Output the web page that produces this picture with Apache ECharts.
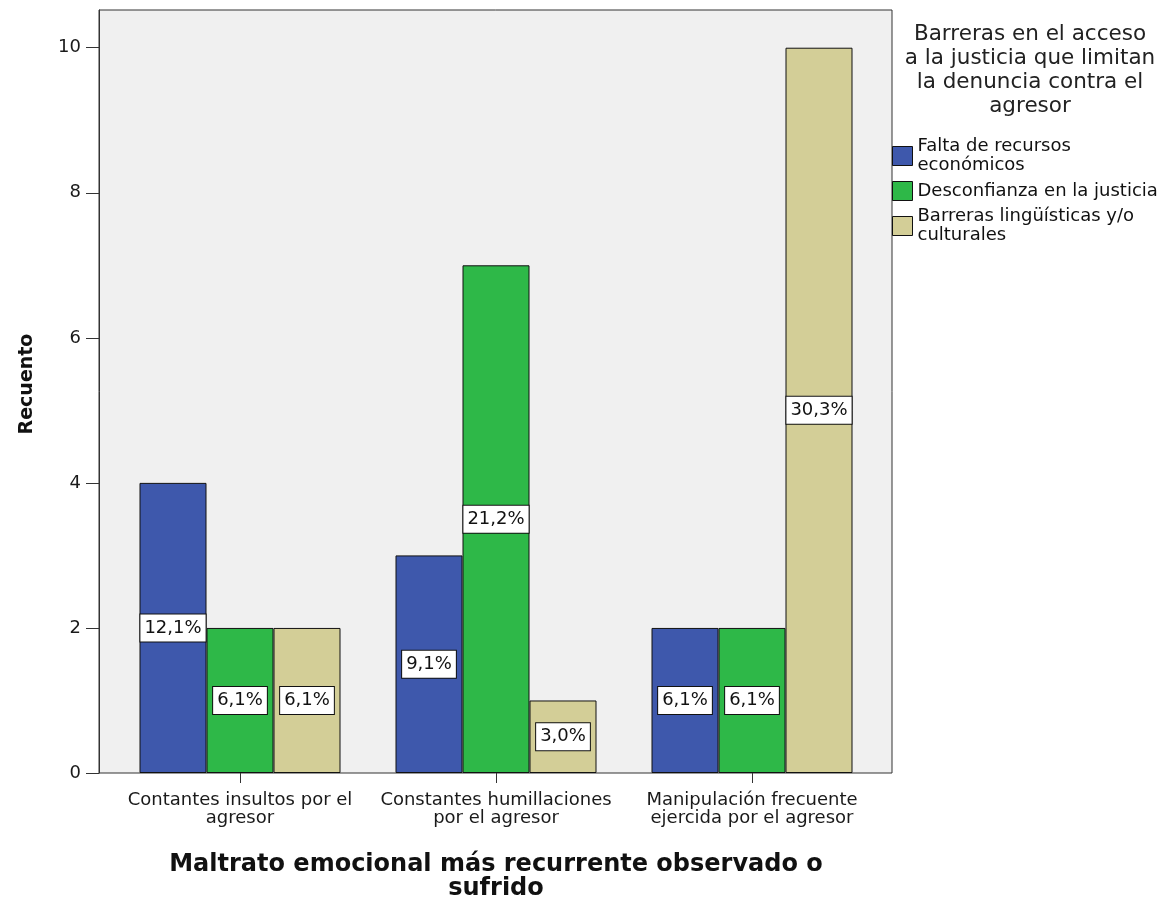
<!DOCTYPE html>
<html>
<head>
<meta charset="utf-8">
<script src="https://cdn.jsdelivr.net/npm/echarts@6/dist/echarts.min.js"></script>
<style>
html,body{margin:0;padding:0;background:#fff;}
#c{width:1172px;height:903px;}
</style>
</head>
<body>
<div id="c"></div>
<script>
// ---- data ----
const categories = ['Contantes insultos por el\nagresor', 'Constantes humillaciones\npor el agresor', 'Manipulación frecuente\nejercida por el agresor'];
const seriesNames = ['Falta de recursos económicos', 'Desconfianza en la justicia', 'Barreras lingüísticas y/o culturales'];
const legendLabels = ['Falta de recursos\neconómicos', 'Desconfianza en la justicia', 'Barreras lingüísticas y/o\nculturales'];
const faltaRecursos = [4, 3, 2];
const desconfianza = [2, 7, 2];
const barrerasLing = [2, 1, 10];
const pctFalta = ['12,1%', '9,1%', '6,1%'];
const pctDesconfianza = ['6,1%', '21,2%', '6,1%'];
const pctBarreras = ['6,1%', '3,0%', '30,3%'];
const yTicks = [0, 2, 4, 6, 8, 10];
const legendTitle = 'Barreras en el acceso\na la justicia que limitan\nla denuncia contra el\nagresor';
const xTitle = 'Maltrato emocional más recurrente observado o\nsufrido';
const yTitle = 'Recuento';

const colors = ['#3E58AC', '#2EB848', '#D3CE97'];
const FONT = '"DejaVu Sans", sans-serif';
const YMAX = 10.52;

function mkSeries(i, values, pcts) {
  return {
    name: seriesNames[i],
    type: 'bar',
    xAxisIndex: 1,
    yAxisIndex: 1,
    barWidth: 67,
    barGap: '0%',
    data: values,
    itemStyle: { color: colors[i], borderColor: '#111', borderWidth: 1 },
    label: {
      show: true,
      position: 'inside',
      formatter: p => pcts[p.dataIndex],
      fontFamily: FONT,
      fontSize: 18,
      color: '#111',
      backgroundColor: '#fff',
      borderColor: '#111',
      borderWidth: 1,
      padding: [4, 4, 3, 4],
      lineHeight: 20
    },
    emphasis: { disabled: true }
  };
}

const chart = echarts.init(document.getElementById('c'), null, { renderer: 'canvas' });
const legendMap = {};
seriesNames.forEach((n, i) => legendMap[n] = legendLabels[i]);

chart.setOption({
  animation: false,
  backgroundColor: '#fff',
  grid: [
    { left: 99, top: 10, width: 793, height: 763, outerBoundsMode: 'none', containLabel: false, show: true, backgroundColor: '#F0F0F0', borderColor: '#333', borderWidth: 1 },
    { left: 112, top: 10, width: 768, height: 763, outerBoundsMode: 'none', containLabel: false }
  ],
  xAxis: [
    { gridIndex: 0, type: 'value', min: 0, max: 1, show: false },
    {
      gridIndex: 1, type: 'category', data: categories,
      axisLine: { show: false },
      axisTick: { show: true, alignWithLabel: true, length: 10, lineStyle: { color: '#333', width: 1 } },
      axisLabel: { interval: 0, margin: 18, fontFamily: FONT, fontSize: 18, lineHeight: 18, color: '#1a1a1a' },
      name: xTitle,
      nameLocation: 'middle',
      nameGap: 80,
      nameTextStyle: { fontFamily: FONT, fontWeight: 'bold', fontSize: 24, lineHeight: 24, color: '#111' }
    }
  ],
  yAxis: [
    {
      gridIndex: 0, type: 'value', min: 0, max: YMAX,
      splitLine: { show: false },
      axisLine: { show: true, lineStyle: { color: '#333', width: 1 } },
      axisTick: { show: true, length: 13, customValues: yTicks, lineStyle: { color: '#333', width: 1 } },
      axisLabel: { margin: 18, customValues: yTicks, fontFamily: FONT, fontSize: 18, color: '#1a1a1a' },
      name: yTitle,
      nameLocation: 'middle',
      nameGap: 62,
      nameTextStyle: { fontFamily: FONT, fontWeight: 'bold', fontSize: 19, color: '#111', padding: [0, 0, 0, 15] }
    },
    { gridIndex: 1, type: 'value', min: 0, max: YMAX, show: false, splitLine: { show: false } }
  ],
  legend: {
    orient: 'vertical',
    left: 892,
    top: 137,
    padding: 0,
    itemWidth: 20,
    itemHeight: 19,
    itemGap: 6,
    icon: 'rect',
    selectedMode: false,
    data: seriesNames,
    formatter: n => legendMap[n],
    itemStyle: { borderColor: '#111', borderWidth: 1 },
    textStyle: { fontFamily: FONT, fontSize: 18, lineHeight: 19, color: '#111' }
  },
  graphic: [
    {
      type: 'text',
      x: 1030, y: 22,
      style: {
        text: legendTitle,
        fontFamily: FONT,
        fontSize: 21.5,
        lineHeight: 24,
        fill: '#222',
        textAlign: 'center',
        textVerticalAlign: 'top'
      }
    }
  ],
  series: [
    mkSeries(0, faltaRecursos, pctFalta),
    mkSeries(1, desconfianza, pctDesconfianza),
    mkSeries(2, barrerasLing, pctBarreras)
  ]
});
</script>
</body>
</html>
